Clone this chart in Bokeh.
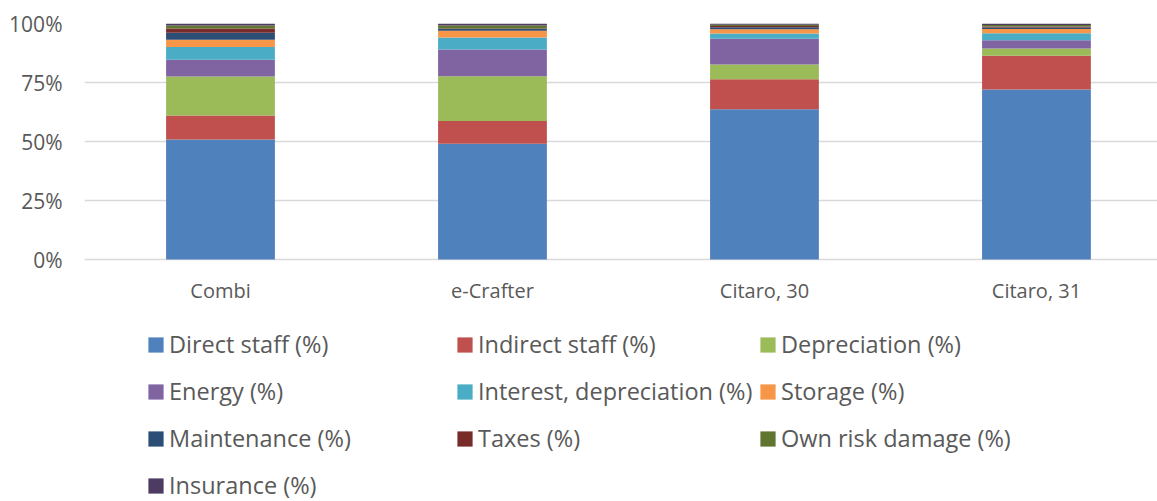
from bokeh.plotting import figure
from bokeh.models import (Range1d, FixedTicker, NumeralTickFormatter, Legend, LegendItem,
                          ColumnDataSource)
from bokeh.core.properties import value
from bokeh.embed import file_html
from bokeh.resources import INLINE

categories = ["Combi", "e-Crafter", "Citaro, 30", "Citaro, 31"]
series_names = ["Direct staff (%)", "Indirect staff (%)", "Depreciation (%)", "Energy (%)",
                "Interest, depreciation (%)", "Storage (%)", "Maintenance (%)", "Taxes (%)",
                "Own risk damage (%)", "Insurance (%)"]
direct_staff = [50.8, 49.0, 63.6, 72.0]
indirect_staff = [10.2, 9.7, 12.7, 14.3]
depreciation = [16.5, 18.9, 6.2, 3.1]
energy = [7.1, 11.4, 10.9, 3.5]
interest_depreciation = [5.4, 5.1, 2.3, 3.0]
storage = [3.1, 2.8, 1.8, 1.8]
maintenance = [3.0, 0.8, 0.8, 0.6]
taxes = [1.8, 0.2, 0.5, 0.4]
own_risk_damage = [1.3, 1.3, 0.6, 0.7]
insurance = [0.8, 0.8, 0.5, 0.6]
colors = ["#4F81BD", "#C0504D", "#9BBB59", "#8064A2", "#4BACC6", "#F79646",
          "#2C4D75", "#772C2A", "#5F7530", "#4D3B62"]

series = [direct_staff, indirect_staff, depreciation, energy, interest_depreciation,
          storage, maintenance, taxes, own_risk_damage, insurance]
keys = ["s%d" % i for i in range(len(series))]
data = {"x": list(range(len(categories)))}
for k, vals in zip(keys, series):
    data[k] = [v / 100.0 for v in vals]
for j in range(len(categories)):
    s = sum(data[k][j] for k in keys)
    for k in keys:
        data[k][j] = data[k][j] / s
source = ColumnDataSource(data)

TXT = "#595959"
FONT = "Open Sans"

# frame: top at 100% line (y=23 px), bottom at the window bottom; 236 px per 100%
PX = 236.0
frame_h = 501 - 23
y_lo = 1.0 - frame_h / PX

p = figure(width=1157, height=501, output_backend="svg", toolbar_location=None,
           x_range=Range1d(-0.5, 3.445), y_range=Range1d(y_lo, 1.0),
           min_border_left=84, min_border_right=0, min_border_top=23, min_border_bottom=0)
p.outline_line_color = None
p.background_fill_color = "white"
p.border_fill_color = "white"

renderers = p.vbar_stack(keys, x="x", width=0.4, color=colors, line_color=None, source=source)

p.xgrid.grid_line_color = None
p.ygrid.grid_line_color = "#D9D9D9"
p.ygrid.grid_line_width = 1.3

p.yaxis.ticker = FixedTicker(ticks=[0, 0.25, 0.5, 0.75, 1.0])
p.yaxis.formatter = NumeralTickFormatter(format="0%")
ax = p.yaxis[0]
ax.axis_line_color = None
ax.major_tick_line_color = None
ax.minor_tick_line_color = None
ax.major_tick_out = 0
ax.major_tick_in = 0
ax.major_label_text_font = FONT
ax.major_label_text_font_size = "21px"
ax.major_label_text_color = TXT
ax.major_label_standoff = 22
p.xaxis.visible = False

cat_src = ColumnDataSource(dict(x=list(range(len(categories))),
                                y=[-31.0 / PX] * len(categories), t=categories))
p.text(x="x", y="y", text="t", source=cat_src, text_align="center", text_baseline="middle",
       text_font=value(FONT), text_font_size="20px", text_color=TXT)

columns = [[0, 3, 6, 9], [1, 4, 7], [2, 5, 8]]
xs = [62, 371, 674]
for col, x0 in zip(columns, xs):
    items = [LegendItem(label=series_names[i], renderers=[renderers[i]]) for i in col]
    n = len(col)
    h = n * 32 + (n - 1) * 15
    y0 = 501 - (328 + h)
    lg = Legend(items=items, location=(x0, y0), orientation="vertical",
                label_text_font=FONT, label_text_font_size="23.5px", label_text_color=TXT,
                glyph_width=19, glyph_height=19, label_height=32, spacing=15,
                label_standoff=4, padding=0, margin=0, border_line_color=None,
                background_fill_alpha=0)
    p.add_layout(lg, "center")

open("out.html", "w").write(file_html(p, INLINE))
